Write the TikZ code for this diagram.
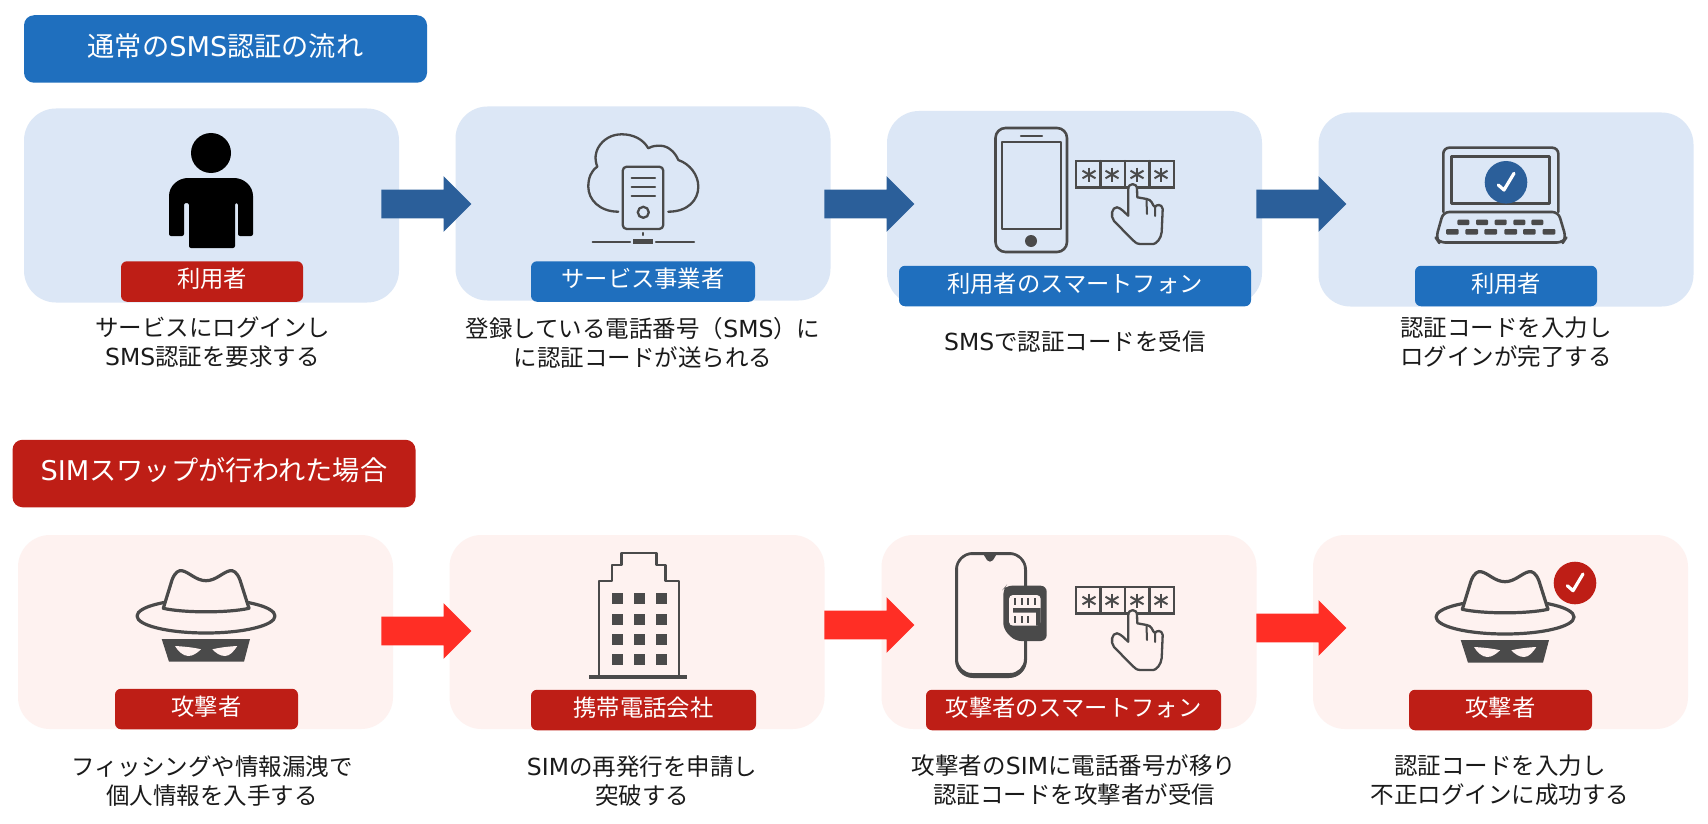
\documentclass[tikz,border=0pt]{standalone}
\usepackage{fontspec}
\setmainfont{Noto Sans CJK JP}
\newfontfamily\lat{DejaVu Sans}
\usetikzlibrary{shapes.arrows}
\definecolor{tblue}{HTML}{1F6FBE}
\definecolor{tred}{HTML}{BE1E16}
\definecolor{pblue}{HTML}{DCE7F6}
\definecolor{ppink}{HTML}{FEF2F0}
\definecolor{ablue}{HTML}{2B5F9A}
\definecolor{ared}{HTML}{FF2E25}
\definecolor{ink}{HTML}{4A4A4A}
\definecolor{txt}{HTML}{1A1A1A}
\tikzset{
 titlebox/.style={rectangle,rounded corners=5pt,minimum width=201.5pt,minimum height=33.75pt,inner sep=0pt,text=white,text height=10pt,text depth=2.7pt,font=\fontsize{13.6}{16}\selectfont},
 panel/.style={rectangle,rounded corners=16pt,minimum width=187.5pt,minimum height=97pt,inner sep=0pt},
 tag/.style={rectangle,rounded corners=3pt,minimum height=20.25pt,inner sep=0pt,text=white,text height=9pt,text depth=2.7pt,font=\fontsize{11.65}{14}\selectfont},
 caption/.style={align=center,inner sep=0pt,text=txt,font=\fontsize{11.75}{14.5}\selectfont},
 blockarrow/.style={single arrow,single arrow head extend=6.75pt,single arrow tip angle=90,text width=0pt,text height=14pt,text depth=0pt,minimum width=27pt,minimum height=45pt,inner sep=0pt,draw=none,anchor=tip},
 icon/.style={draw=ink,line width=1.15pt,line join=round,line cap=round},
 pics/keypad/.style={code={
  \draw[icon,line width=1.1pt,line join=miter] (0,0) rectangle (98,26.5);
  \draw[ink,line width=1.2pt] (-1,26.5) -- (99,26.5);
  \foreach \i in {24.5,49,73.5} \draw[icon,line width=1.1pt] (\i,0) -- (\i,26);
  \foreach \i in {13,36,61,85} {
    \draw[ink,line width=1pt] (\i,6.5) -- (\i,20.5);
    \draw[ink,line width=1pt] (\i-6.5,9.7) -- (\i+6.5,17.3);
    \draw[ink,line width=1pt] (\i-6.5,17.3) -- (\i+6.5,9.7);
  }
  \draw[icon,fill=#1] (52.3,28) .. controls (52.3,21.5) and (61,21.5) .. (61,28) -- (61.3,36.3)
   -- (70.7,38) .. controls (73,38.5) and (75,39.5) .. (75.7,41.3) .. controls (76.5,44) and (78,45) .. (79,46)
   .. controls (80,43.5) and (86,42.5) .. (86.7,48) -- (85.7,71) .. controls (85,78) and (80,83) .. (77.3,83)
   -- (64,83) .. controls (60,83) and (58,80) .. (55.7,78) -- (38,60) .. controls (34,55) and (36,46) .. (41,46.3) .. controls (45,47) and (49,52) .. (52.3,54.7) -- cycle;
  \draw[icon,line width=1pt] (70.5,39) -- (71,53) (79,46) -- (79,55);
 }},
 pics/hat/.style={code={
  \draw[icon,line width=1.6pt] (0,0) ellipse [x radius=69,y radius=17];
  \draw[icon,line width=1.6pt,fill=ppink] (-42.7,-7.7) -- (-34,-36) .. controls (-31,-44) and (-27,-46) .. (-24,-45.3) .. controls (-17,-44) and (-10,-35.3) .. (0,-35.3) .. controls (10,-35.3) and (17,-44) .. (24,-45.3) .. controls (27,-46) and (31,-44) .. (34,-36) -- (43,-7.7) .. controls (22,-3) and (-22,-3) .. (-42.7,-7.7) -- cycle;
  \fill[ink] (-44.3,23) -- (44,23) -- (38,45.7) -- (-37,45.7) -- cycle;
  \fill[ppink] (-31,30) .. controls (-22,30.5) and (-12,31.5) .. (-5,33.3) .. controls (-9,37) and (-13,40) .. (-17.7,40) .. controls (-23,40) and (-28,35) .. (-31,30) -- cycle;
  \fill[ppink] (31.3,30) .. controls (22,30.5) and (14,31.5) .. (6.3,33.3) .. controls (10,37) and (14,40) .. (19,40) .. controls (24,40) and (28,35) .. (31.3,30) -- cycle;
 }},
 pics/checkbadge/.style={code={
  \fill[#1] (0,0) circle [radius=21.3];
  \draw[white,line width=1.6pt,line cap=round,line join=round] (-7.7,2.7) -- (-2,7.7) -- (8,-9);
 }}
}
\begin{document}
\begin{tikzpicture}[x=.5pt,y=-.5pt]
\useasboundingbox (0,0) rectangle (1708,824);
\fill[white] (0,0) rectangle (1708,824);

% titles
\node[titlebox,fill=tblue] (t1) at (225.5,49) {通常の{\lat SMS}認証の流れ};
\node[titlebox,fill=tred] (t2) at (214,473.5) {{\lat SIM}スワップが行われた場合};

% panels
\node[panel,fill=pblue] (a1) at (211.5,205.5) {};
\node[panel,fill=pblue] (a2) at (643,203.5) {};
\node[panel,fill=pblue] (a3) at (1074.5,208) {};
\node[panel,fill=pblue] (a4) at (1506,209.5) {};
\node[panel,fill=ppink] (b1) at (205.5,632) {};
\node[panel,fill=ppink] (b2) at (637,632) {};
\node[panel,fill=ppink] (b3) at (1069,632) {};
\node[panel,fill=ppink] (b4) at (1500.5,632) {};

% arrows
\node[blockarrow,fill=ablue] (p1) at (472,204) {};
\node[blockarrow,fill=ablue] (p2) at (915,204) {};
\node[blockarrow,fill=ablue] (p3) at (1347,204) {};
\node[blockarrow,fill=ared] (q1) at (472,631) {};
\node[blockarrow,fill=ared] (q2) at (915,625) {};
\node[blockarrow,fill=ared] (q3) at (1347,628) {};

% person
\fill[black] (211,153) circle [radius=20];
\fill[black,rounded corners=1pt] (169,236) -- (169,198) .. controls (169,186) and (178,178) .. (190,178) -- (232,178) .. controls (244,178) and (253,186) .. (253,198) -- (253,236) -- (238,236) -- (238,203) -- (235,203) -- (235,248) -- (189,248) -- (189,203) -- (184,203) -- (184,236) -- cycle;

% cloud server
\draw[icon] (618.3,211.7) .. controls (600,211.7) and (588.3,200) .. (588.3,186.7) .. controls (588.3,178) and (591,171) .. (597.3,166.7) .. controls (594,158) and (596,152) .. (598,148) .. controls (603,139) and (612,134.3) .. (621.7,134.3) .. controls (633,134.3) and (643,139) .. (648.3,148.3) .. controls (652,146) and (656,145.7) .. (660,145.7) .. controls (668,145.7) and (675,152) .. (678.3,160) .. controls (690,164) and (698.3,175) .. (698.3,186.7) .. controls (698.3,200) and (688,211.7) .. (668.3,211.7);
\draw[icon,rounded corners=2pt] (622.7,166.7) rectangle (663.3,229);
\draw[icon] (631.7,178.3) -- (655,178.3) (631.7,186.7) -- (655,186.7) (631.7,195.7) -- (655,195.7);
\draw[icon] (643.3,212.3) circle [radius=5.5];
\draw[icon] (643.3,233) -- (643.3,235);
\draw[icon] (592.7,241.7) -- (630,241.7) (656,241.7) -- (694,241.7);
\fill[ink] (632.7,239) rectangle (653.3,244.3);

% phone 1
\draw[icon,line width=1.3pt,rounded corners=5pt] (995.5,128) rectangle (1067,252);
\draw[icon] (1002,142) rectangle (1061,229);
\draw[icon] (1021,136) -- (1042,136);
\fill[ink] (1031,241) circle [radius=6];
\pic at (1076,161) {keypad=pblue};

% laptop
\draw[icon,line width=1.3pt,fill=pblue,rounded corners=3pt] (1443.3,212) -- (1443.3,147.7) -- (1558.3,147.7) -- (1558.3,212);
\draw[icon,line width=1.3pt] (1451.7,156.7) rectangle (1549.3,203.3);
\draw[icon,line width=1.3pt,rounded corners=3pt] (1443.3,212) -- (1436,238) -- (1439,242.5) -- (1563,242.5) -- (1566,238) -- (1558.3,212) -- cycle;
\pic at (1506,182.3) {checkbadge=ablue};
\foreach \x in {1463.3,1482,1500.7,1519.3,1537.3} \fill[ink,rounded corners=.5pt] (\x-6,219.7) rectangle (\x+6,225);
\foreach \x in {1452.3,1471.7,1490.7,1510.7,1529.3,1549} \fill[ink,rounded corners=.5pt] (\x-6.3,229) rectangle (\x+6.3,234.5);

% hat 1
\pic at (206,616) {hat};

% building
\draw[icon,line width=1.3pt,line cap=butt] (599,677) -- (599,581) -- (612,581) -- (612,565) -- (621.5,565) -- (621.5,553) -- (656.5,553) -- (656.5,565) -- (665.5,565) -- (665.5,581) -- (679,581) -- (679,677);
\draw[ink,line width=1.6pt] (589,677) -- (687,677);
\foreach \x in {617,639,661} \foreach \y in {598,619,639,659} \fill[ink] (\x-5.5,\y-5.5) rectangle (\x+5.5,\y+5.5);

% phone 2
\fill[ink,even odd rule] [rounded corners=9pt] (955,552) rectangle (1027,678) [rounded corners=7pt] (958,555) rectangle (1024,673);
\fill[ink] (980,552) .. controls (985,552) and (985,561.7) .. (990,561.7) .. controls (995,561.7) and (995,552) .. (1000,552) -- cycle;
\fill[ink,rounded corners=3pt] (1003.3,589) -- (1006,585.7) -- (1046.7,585.7) -- (1046.7,641) -- (1015,641) -- (1003.3,629) -- cycle;
\fill[ppink,rounded corners=2pt] (1009,595) rectangle (1040.7,625.7);
\foreach \x in {1015,1021.7,1028.3,1035} \draw[ink,line width=1.1pt] (\x,598.3) -- (\x,605);
\foreach \x in {1015,1021.7,1028.3} \draw[ink,line width=1.1pt] (\x,616) -- (\x,623);
\fill[ink] (1013,608) -- (1040.7,608) -- (1040.7,625.7) -- (1036,625.7) -- (1036,612.5) -- (1013,612.5) -- cycle;
\pic at (1076,587) {keypad=ppink};

% hat 2
\pic at (1505,617) {hat};
\pic at (1575,583) {checkbadge=tred};

% tags
\node[tag,fill=tred,minimum width=91pt] (la1) at (212,281.5) {利用者};
\node[tag,fill=tblue,minimum width=112pt] (la2) at (643,281.5) {サービス事業者};
\node[tag,fill=tblue,minimum width=176pt] (la3) at (1075,286) {利用者のスマートフォン};
\node[tag,fill=tblue,minimum width=91pt] (la4) at (1506,286) {利用者};
\node[tag,fill=tred,minimum width=91.5pt] (lb1) at (206.5,709) {攻撃者};
\node[tag,fill=tred,minimum width=112.5pt] (lb2) at (643.5,710) {携帯電話会社};
\node[tag,fill=tred,minimum width=147.5pt] (lb3) at (1073.5,710) {攻撃者のスマートフォン};
\node[tag,fill=tred,minimum width=91.5pt] (lb4) at (1500.5,710) {攻撃者};

% captions
\node[caption] (ca1) at (212.5,342.5) {サービスにログインし\\{\lat SMS}認証を要求する};
\node[caption] (ca2) at (643,342.5) {登録している電話番号（{\lat SMS}）に\\に認証コードが送られる};
\node[caption] (ca3) at (1075,342) {{\lat SMS}で認証コードを受信};
\node[caption] (ca4) at (1506,342.5) {認証コードを入力し\\ログインが完了する};
\node[caption] (cb1) at (212,781) {フィッシングや情報漏洩で\\個人情報を入手する};
\node[caption] (cb2) at (642,781) {{\lat SIM}の再発行を申請し\\突破する};
\node[caption] (cb3) at (1074,780.5) {攻撃者の{\lat SIM}に電話番号が移り\\認証コードを攻撃者が受信};
\node[caption] (cb4) at (1500,780.5) {認証コードを入力し\\不正ログインに成功する};
\end{tikzpicture}
\end{document}
